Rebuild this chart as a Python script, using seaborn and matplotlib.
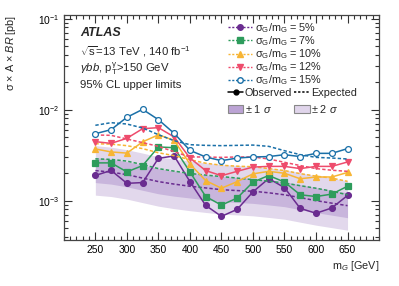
import matplotlib
matplotlib.use('Agg')
import numpy as np
import pandas as pd
import matplotlib.pyplot as plt
import seaborn as sns
from matplotlib.lines import Line2D
from matplotlib.patches import Patch
from matplotlib.ticker import MultipleLocator, LogLocator, NullFormatter

# --------------------------------------------------------------------------- #
# data                                               #
# --------------------------------------------------------------------------- #
mass = [250, 275, 300, 325, 350, 375, 400, 425, 450, 475, 500, 525, 550, 575, 600, 625, 650]

obs_5 = [1.89e-3, 2.15e-3, 1.55e-3, 1.58e-3, 2.92e-3, 3.10e-3, 1.62e-3, 8.86e-4, 6.72e-4,
         8.03e-4, 1.25e-3, 1.75e-3, 1.39e-3, 8.22e-4, 7.27e-4, 8.31e-4, 1.14e-3]
exp_5 = [2.14e-3, 2.06e-3, 1.93e-3, 1.77e-3, 1.62e-3, 1.52e-3, 1.44e-3, 1.38e-3, 1.32e-3,
         1.29e-3, 1.27e-3, 1.22e-3, 1.16e-3, 1.08e-3, 1.00e-3, 9.39e-4, 8.81e-4]
obs_7 = [2.60e-3, 2.60e-3, 2.07e-3, 2.43e-3, 3.89e-3, 3.82e-3, 2.07e-3, 1.11e-3, 8.93e-4,
         1.07e-3, 1.60e-3, 1.89e-3, 1.60e-3, 1.16e-3, 1.11e-3, 1.18e-3, 1.44e-3]
exp_7 = [2.88e-3, 2.84e-3, 2.72e-3, 2.49e-3, 2.25e-3, 2.11e-3, 1.99e-3, 1.91e-3, 1.84e-3,
         1.77e-3, 1.70e-3, 1.64e-3, 1.56e-3, 1.46e-3, 1.37e-3, 1.27e-3, 1.16e-3]
obs_10 = [3.70e-3, 3.43e-3, 3.33e-3, 4.43e-3, 5.29e-3, 4.59e-3, 2.53e-3, 1.66e-3, 1.37e-3,
          1.62e-3, 1.97e-3, 2.10e-3, 2.00e-3, 1.74e-3, 1.82e-3, 1.82e-3, 2.04e-3]
exp_10 = [4.22e-3, 4.18e-3, 4.02e-3, 3.73e-3, 3.36e-3, 3.12e-3, 2.82e-3, 2.58e-3, 2.45e-3,
          2.39e-3, 2.36e-3, 2.25e-3, 2.14e-3, 1.98e-3, 1.86e-3, 1.77e-3, 1.63e-3]
obs_12 = [4.45e-3, 4.26e-3, 4.84e-3, 6.18e-3, 6.34e-3, 5.01e-3, 2.94e-3, 2.14e-3, 1.88e-3,
          2.10e-3, 2.34e-3, 2.38e-3, 2.38e-3, 2.25e-3, 2.38e-3, 2.38e-3, 2.66e-3]
exp_12 = [5.27e-3, 5.22e-3, 4.76e-3, 4.34e-3, 3.95e-3, 3.45e-3, 3.02e-3, 3.02e-3, 2.99e-3,
          3.02e-3, 3.02e-3, 2.87e-3, 2.64e-3, 2.43e-3, 2.25e-3, 2.16e-3, 2.10e-3]
obs_15 = [5.44e-3, 6.03e-3, 8.24e-3, 1.007e-2, 7.76e-3, 5.49e-3, 3.57e-3, 3.02e-3, 2.75e-3,
          2.94e-3, 3.02e-3, 3.05e-3, 3.20e-3, 3.05e-3, 3.31e-3, 3.31e-3, 3.73e-3]
exp_15 = [6.73e-3, 7.19e-3, 6.95e-3, 6.29e-3, 5.31e-3, 4.56e-3, 4.12e-3, 4.05e-3, 4.02e-3,
          4.05e-3, 4.08e-3, 3.95e-3, 3.54e-3, 3.20e-3, 2.99e-3, 2.94e-3, 2.87e-3]

# expected bands (5% width)
band2_hi = [4.02e-3, 3.87e-3, 3.63e-3, 3.33e-3, 3.04e-3, 2.86e-3, 2.72e-3, 2.60e-3, 2.49e-3,
            2.44e-3, 2.38e-3, 2.29e-3, 2.19e-3, 2.03e-3, 1.88e-3, 1.77e-3, 1.66e-3]
band1_hi = [2.97e-3, 2.86e-3, 2.68e-3, 2.45e-3, 2.25e-3, 2.11e-3, 2.00e-3, 1.92e-3, 1.84e-3,
            1.80e-3, 1.76e-3, 1.69e-3, 1.62e-3, 1.50e-3, 1.39e-3, 1.30e-3, 1.22e-3]
band1_lo = [1.58e-3, 1.52e-3, 1.42e-3, 1.30e-3, 1.19e-3, 1.12e-3, 1.07e-3, 1.02e-3, 9.75e-4,
            9.55e-4, 9.34e-4, 8.97e-4, 8.59e-4, 7.96e-4, 7.38e-4, 6.93e-4, 6.50e-4]
band2_lo = [1.15e-3, 1.11e-3, 1.04e-3, 9.51e-4, 8.70e-4, 8.17e-4, 7.76e-4, 7.42e-4, 7.11e-4,
            6.97e-4, 6.81e-4, 6.54e-4, 6.26e-4, 5.80e-4, 5.38e-4, 5.05e-4, 4.74e-4]

widths = ["5%", "7%", "10%", "12%", "15%"]
colors = ["#6a2c90", "#2e9c5c", "#f7b535", "#ee4c6c", "#1a70a8"]
markers = ["o", "s", "^", "v", "o"]
observed = [obs_5, obs_7, obs_10, obs_12, obs_15]
expected = [exp_5, exp_7, exp_10, exp_12, exp_15]

# --------------------------------------------------------------------------- #
# style                                                                       #
# --------------------------------------------------------------------------- #
sns.set_style("ticks")
plt.rcParams['font.family'] = ['Liberation Sans', 'DejaVu Sans']
plt.rcParams['mathtext.fontset'] = 'custom'
plt.rcParams['mathtext.rm'] = 'Liberation Sans'
plt.rcParams['mathtext.it'] = 'Liberation Sans:italic'
plt.rcParams['mathtext.bf'] = 'Liberation Sans:bold'
FS = 8.2      # annotation text
TFS = 7.4     # tick labels
LFS = 7.8     # legend text

fig = plt.figure(figsize=(3.99, 2.86), dpi=100)
ax = fig.add_axes([0.160, 0.161, 0.790, 0.787])

ax.fill_between(mass, band2_lo, band2_hi, color="#e2d8ec", lw=0)
ax.fill_between(mass, band1_lo, band1_hi, color="#c8b5dc", lw=0)

for w, c, m, o, e in zip(widths, colors, markers, observed, expected):
    df = pd.DataFrame({"m": mass, "obs": o, "exp": e})
    sns.lineplot(data=df, x="m", y="exp", ax=ax, color=c, lw=1.1,
                 linestyle=(0, (2.2, 1.4)))
    face = "white" if w == "15%" else c
    sns.lineplot(data=df, x="m", y="obs", ax=ax, color=c, lw=1.1,
                 marker=m, markersize=4.2, markerfacecolor=face,
                 markeredgecolor=c, markeredgewidth=0.9)

ax.set_yscale("log")
ax.set_xlim(200, 700)
ax.set_ylim(3.7e-4, 0.11)
ax.xaxis.set_minor_locator(MultipleLocator(10))
ax.set_xticks([250, 300, 350, 400, 450, 500, 550, 600, 650])
ax.yaxis.set_major_locator(LogLocator(base=10, numticks=10))
ax.yaxis.set_minor_locator(LogLocator(base=10, subs=np.arange(2, 10), numticks=20))
ax.yaxis.set_minor_formatter(NullFormatter())
ax.tick_params(which="both", direction="in", top=True, right=True,
               labelsize=TFS, width=0.8, colors="#333333", labelcolor="black")
ax.tick_params(which="major", length=6)
ax.tick_params(which="minor", length=3)
for s in ax.spines.values():
    s.set_linewidth(0.9)
    s.set_color("#444444")

ax.set_xlabel(r"m$_G$ [GeV]", fontsize=TFS + 0.4, loc="right", labelpad=3)
ax.set_ylabel(r"σ × A × $BR$ [pb]", fontsize=TFS + 0.4, loc="top")
ax.yaxis.set_label_coords(-0.145, 1.0)

# annotations
fig.text(80 / 399, 1 - 33 / 286, "ATLAS", fontsize=9, fontweight="bold",
         style="italic", va="center")
fig.text(80 / 399, 1 - 52 / 286, r"$\sqrt{\mathregular{s}}$=13 TeV , 140 fb$^{\mathregular{-1}}$",
         fontsize=FS, va="center")
fig.text(80 / 399, 1 - 69 / 286, r"$\gamma bb$, $\mathregular{p_T^{\gamma}}$>150 GeV",
         fontsize=FS, va="center")
fig.text(80 / 399, 1 - 85 / 286, "95% CL upper limits", fontsize=FS, va="center")

# legends
h1 = [Line2D([], [], color=c, lw=1.0, linestyle=(0, (1.5, 1.2)), marker=m,
             markersize=4, markerfacecolor=("white" if w == "15%" else c),
             markeredgecolor=c)
      for w, c, m in zip(widths, colors, markers)]
l1 = [r"$\mathregular{\sigma_G/m_G}$ = " + w for w in widths]
fig.legend(h1, l1, loc="upper left", bbox_to_anchor=(228 / 399, 1 - 21 / 286),
           frameon=False, fontsize=LFS, handlelength=2.2, handletextpad=0.25,
           labelspacing=-0.06, borderpad=0, borderaxespad=0)

h2 = [Line2D([], [], color="black", lw=1.1, marker="o", markersize=3.5),
      Patch(facecolor="#bba3d4", edgecolor="#888888", lw=0.8),
      Line2D([], [], color="black", lw=1.1, linestyle=(0, (1.5, 1.2))),
      Patch(facecolor="#e0d5eb", edgecolor="#888888", lw=0.8)]
l2 = ["Observed", r"± 1 $\sigma$", "Expected", r"± 2 $\sigma$"]
fig.legend(h2, l2, loc="upper left", bbox_to_anchor=(228 / 399, 1 - 88 / 286),
           frameon=False, fontsize=LFS, ncol=2, handlelength=1.4, handletextpad=0.15,
           columnspacing=0.2, labelspacing=0.45, borderpad=0, borderaxespad=0)

plt.savefig("out.png", dpi=100)
plt.close()
